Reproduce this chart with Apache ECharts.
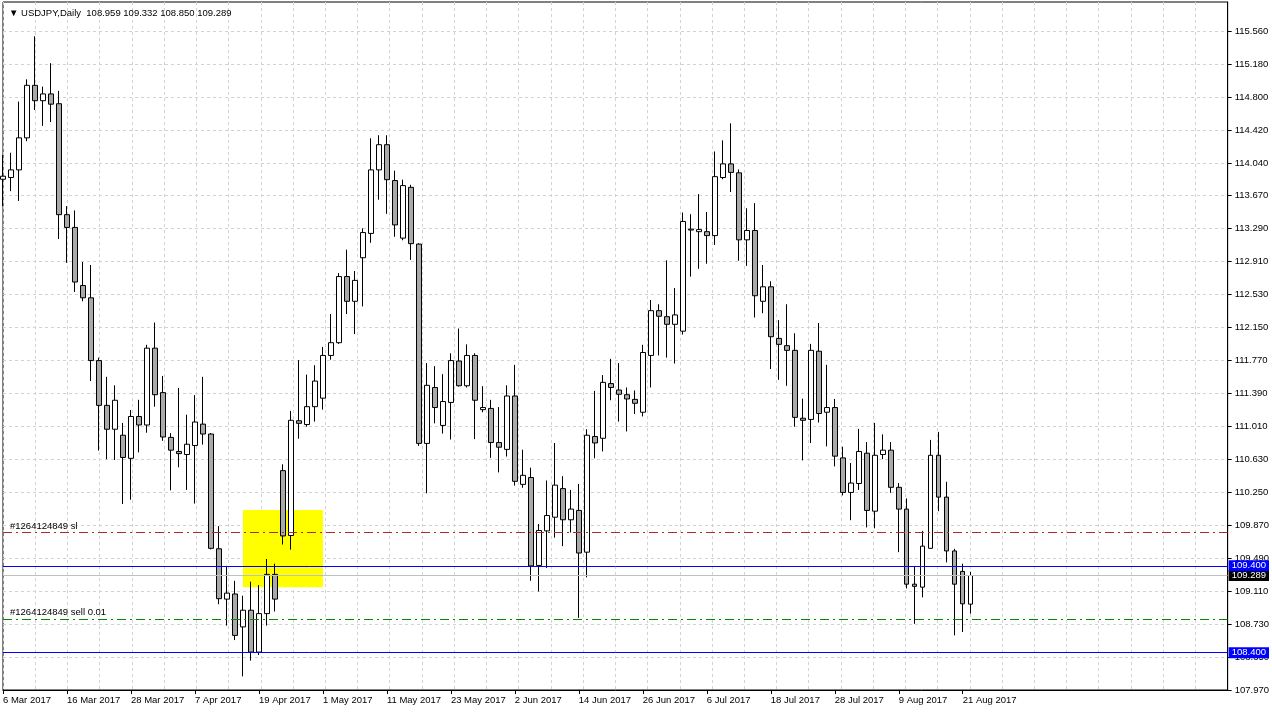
<!DOCTYPE html>
<html>
<head>
<meta charset="utf-8">
<title>USDJPY Daily</title>
<script src="https://cdn.jsdelivr.net/npm/echarts@6/dist/echarts.min.js"></script>
<style>
  html, body { margin: 0; padding: 0; background: #fff; }
  #chart { width: 1272px; height: 714px; }
</style>
</head>
<body>
<div id="chart"></div>
<script>
// daily bars, 6 Mar 2017 .. 22 Aug 2017 (index 0 = 6 Mar)
const openPrices = [
  113.854, 113.874, 113.962, 114.331, 114.936, 114.759, 114.837, 114.724, 113.446, 113.299,
  112.630, 112.488, 111.765, 111.249, 110.974, 110.905, 110.639, 111.121, 111.023, 111.908,
  111.396, 110.880, 110.718, 110.683, 110.787, 111.033, 110.919, 109.597, 109.017, 109.076,
  108.697, 108.889, 108.407, 108.850, 109.302, 110.497, 109.750, 111.072, 111.028, 111.234,
  111.332, 111.824, 111.971, 112.733, 112.448, 112.950, 113.230, 113.962, 114.252, 113.839,
  113.176, 113.761, 113.107, 110.811, 111.455, 111.018, 111.283, 111.760, 111.475, 111.824,
  111.200, 111.214, 110.821, 110.742, 111.357, 110.339, 110.418, 109.405, 109.803, 109.961,
  110.290, 109.931, 110.039, 109.558, 110.890, 110.870, 111.500, 111.426, 111.372, 111.318,
  111.170, 111.824, 112.340, 112.271, 112.183, 112.104, 113.269, 113.250, 113.250, 113.205,
  113.874, 114.031, 113.928, 113.156, 113.264, 112.448, 112.615, 112.021, 111.937, 111.883,
  111.101, 111.087, 111.873, 111.170, 111.224, 110.644, 110.246, 110.349, 110.698, 110.030,
  110.683, 110.733, 110.305, 110.054, 109.189, 109.155, 109.602, 110.674, 110.192, 109.572,
  109.336, 108.959
]
const closePrices = [
  113.889, 113.962, 114.331, 114.936, 114.759, 114.837, 114.719, 113.446, 113.299, 112.670,
  112.488, 111.765, 111.249, 110.974, 111.308, 110.649, 111.121, 111.023, 111.908, 111.372,
  110.885, 110.733, 110.693, 110.801, 111.057, 110.919, 109.602, 109.022, 109.086, 108.599,
  108.889, 108.407, 108.850, 109.302, 109.017, 109.745, 111.077, 111.042, 111.234, 111.529,
  111.824, 111.971, 112.733, 112.448, 112.689, 113.240, 113.962, 114.252, 113.849, 113.328,
  113.781, 113.112, 110.811, 111.480, 111.224, 111.293, 111.765, 111.475, 111.824, 111.308,
  111.224, 110.821, 110.767, 111.357, 110.374, 110.443, 109.400, 109.808, 109.980, 110.330,
  109.931, 110.054, 109.548, 110.905, 110.816, 111.514, 111.455, 111.377, 111.323, 111.273,
  111.858, 112.340, 112.276, 112.183, 112.291, 113.368, 113.279, 113.274, 113.205, 113.884,
  114.031, 113.933, 113.156, 113.264, 112.512, 112.615, 112.040, 111.952, 111.883, 111.111,
  111.077, 111.883, 111.155, 111.224, 110.664, 110.246, 110.354, 110.718, 110.039, 110.674,
  110.733, 110.305, 110.054, 109.189, 109.164, 109.627, 110.674, 110.192, 109.572, 109.189,
  108.963, 109.289
]
const lowPrices = [
  113.545, 113.717, 113.604, 114.292, 114.651, 114.469, 114.513, 113.166, 112.891, 112.556,
  112.448, 111.529, 110.728, 110.629, 110.620, 110.113, 110.162, 110.708, 110.934, 111.234,
  110.841, 110.271, 110.536, 110.275, 110.118, 110.797, 109.590, 108.958, 108.712, 108.545,
  108.127, 108.309, 108.373, 108.712, 108.874, 109.646, 109.587, 110.865, 111.003, 111.062,
  111.200, 111.775, 111.957, 112.301, 112.070, 112.389, 113.122, 113.618, 113.456, 113.191,
  113.151, 112.925, 110.782, 110.236, 111.042, 110.924, 110.856, 111.465, 111.455, 110.860,
  111.170, 110.644, 110.477, 110.659, 110.325, 110.300, 109.228, 109.105, 109.376, 109.725,
  109.627, 109.784, 108.801, 109.268, 110.639, 110.718, 111.308, 111.062, 110.949, 111.150,
  111.121, 111.455, 111.824, 111.799, 111.731, 112.065, 112.733, 112.822, 112.881, 113.097,
  113.854, 113.707, 112.915, 112.856, 112.261, 112.311, 111.667, 111.544, 111.475, 111.003,
  110.615, 110.816, 111.052, 110.777, 110.546, 110.212, 109.926, 110.275, 109.843, 109.833,
  110.629, 110.241, 109.558, 109.140, 108.732, 109.037, 109.600, 110.030, 109.440, 108.599,
  108.638, 108.850
]
const highPrices = [
  114.134, 114.159, 114.749, 115.005, 115.501, 114.921, 115.191, 114.872, 113.545, 113.495,
  112.901, 112.866, 111.799, 111.578, 111.480, 111.047, 111.195, 111.313, 111.947, 112.203,
  111.588, 110.929, 111.450, 111.141, 111.367, 111.578, 110.930, 109.858, 109.400, 109.228,
  109.056, 109.218, 109.179, 109.479, 109.425, 110.570, 111.185, 111.770, 111.603, 111.711,
  111.922, 112.301, 112.773, 113.043, 112.797, 113.289, 114.326, 114.361, 114.361, 113.953,
  113.849, 113.790, 113.117, 111.736, 111.701, 111.608, 111.849, 112.134, 111.952, 111.849,
  111.470, 111.313, 111.229, 111.480, 111.716, 110.738, 110.531, 109.882, 110.384, 110.816,
  110.433, 110.275, 110.344, 110.974, 111.416, 111.598, 111.785, 111.736, 111.455, 111.421,
  111.947, 112.463, 112.414, 112.920, 112.601, 113.471, 113.451, 113.682, 113.476, 114.174,
  114.302, 114.498, 113.967, 113.520, 113.579, 112.866, 112.679, 112.232, 112.414, 112.080,
  111.327, 111.957, 112.198, 111.716, 111.323, 110.772, 110.585, 110.978, 110.826, 111.047,
  110.915, 110.826, 110.354, 110.177, 109.391, 109.803, 110.851, 110.944, 110.369, 109.597,
  109.425, 109.332
]

const dateTicks = [0, 8, 16, 24, 32, 40, 48, 56, 64, 72, 80, 88, 96, 104, 112, 120]
const dateLabels = [
  '6 Mar 2017', '16 Mar 2017', '28 Mar 2017', '7 Apr 2017', '19 Apr 2017', '1 May 2017',
  '11 May 2017', '23 May 2017', '2 Jun 2017', '14 Jun 2017', '26 Jun 2017', '6 Jul 2017',
  '18 Jul 2017', '28 Jul 2017', '9 Aug 2017', '21 Aug 2017'
]
const priceLevels = [
  107.970, 108.350, 108.730, 109.110, 109.490, 109.870, 110.250, 110.630, 111.010, 111.390,
  111.770, 112.150, 112.530, 112.910, 113.290, 113.670, 114.040, 114.420, 114.800, 115.180, 115.560
]

const headerText = '\u25BC USDJPY,Daily  108.959 109.332 108.850 109.289'
const stopLoss = 109.79
const sellPrice = 108.79
const upperLevel = 109.40
const lowerLevel = 108.40
const bidPrice = 109.289
const zoneFrom = 30
const zoneTo = 40
const zoneTop = 110.044
const zoneBottom = 109.155

const fontFamily = 'Liberation Sans, Arial, sans-serif'
const fontSize = 9.5

let candles = openPrices.map((o, i) => [i, o, closePrices[i], lowPrices[i], highPrices[i]])

function priceTag(text, bg) {
    return {
        show: true,
        position: 'end',
        distance: 1,
        formatter: text,
        color: '#fff',
        backgroundColor: bg,
        padding: [1, 3, 0, 3],
        fontSize: fontSize,
        fontFamily: fontFamily
    }
}

let option = {
    animation: false,
    backgroundColor: '#fff',
    textStyle: { fontFamily: fontFamily },
    title: {
        text: headerText,
        left: 4,
        top: 3,
        textStyle: { fontSize: fontSize, fontWeight: 'normal', color: '#000', fontFamily: fontFamily }
    },
    grid: {
        left: 3,
        right: 44,
        top: 2,
        bottom: 24,
        show: true,
        borderColor: '#000',
        borderWidth: 1
    },
    xAxis: [
        {
            type: 'value',
            min: 0,
            max: 153.125,
            position: 'bottom',
            axisLine: { show: true, onZero: false, lineStyle: { color: '#000' } },
            axisTick: { show: true, customValues: dateTicks, length: 4, lineStyle: { color: '#000' } },
            axisLabel: {
                customValues: dateTicks,
                formatter: (v) => dateLabels[Math.round(v / 8)] || '',
                align: 'left',
                margin: 5,
                fontSize: fontSize,
                color: '#000'
            },
            splitLine: { show: false }
        },
        {
            // vertical grid every 4 bars
            type: 'value',
            min: 0,
            max: 152,
            interval: 4,
            position: 'top',
            axisLine: { show: false },
            axisTick: { show: false },
            axisLabel: { show: false },
            splitLine: { show: true, lineStyle: { color: '#d2d2d2', type: [3, 3] } }
        }
    ],
    yAxis: [{
        type: 'value',
        position: 'right',
        min: 107.97,
        max: 115.896,
        axisLine: { show: true, onZero: false, lineStyle: { color: '#000' } },
        axisTick: { show: true, customValues: priceLevels, length: 4, lineStyle: { color: '#000' } },
        axisLabel: {
            customValues: priceLevels,
            formatter: (v) => v.toFixed(3),
            margin: 7,
            fontSize: fontSize,
            color: '#000'
        },
        splitLine: { show: true, lineStyle: { color: '#d2d2d2', type: [3, 3] } }
    }],
    series: [{
        type: 'candlestick',
        data: candles,
        encode: { x: 0, y: [1, 2, 3, 4] },
        barWidth: 5,
        itemStyle: {
            color: '#ffffff',
            color0: '#a9a9a9',
            borderColor: '#000',
            borderColor0: '#000',
            borderWidth: 1
        },
        markArea: {
            silent: true,
            itemStyle: { color: '#ffff00' },
            data: [[
                { coord: [zoneFrom, zoneTop] },
                { coord: [zoneTo, zoneBottom] }
            ]]
        },
        markLine: {
            silent: true,
            symbol: 'none',
            precision: 3,
            data: [
                {
                    yAxis: stopLoss,
                    lineStyle: { color: '#b02a2a', type: [9, 4, 2, 4], width: 1 },
                    label: { show: true, position: 'insideStartTop', distance: [7, 1], formatter: '#1264124849 sl', color: '#000', fontSize: fontSize }
                },
                {
                    yAxis: sellPrice,
                    lineStyle: { color: '#008a00', type: [9, 4, 2, 4], width: 1 },
                    label: { show: true, position: 'insideStartTop', distance: [7, 1], formatter: '#1264124849 sell 0.01', color: '#000', fontSize: fontSize }
                },
                {
                    yAxis: bidPrice,
                    lineStyle: { color: '#c0c0c0', type: 'solid', width: 1 },
                    label: priceTag('109.289', '#000')
                },
                {
                    yAxis: upperLevel,
                    lineStyle: { color: '#0000ff', type: 'solid', width: 1 },
                    label: priceTag('109.400', '#0000ff')
                },
                {
                    yAxis: lowerLevel,
                    lineStyle: { color: '#0000ff', type: 'solid', width: 1 },
                    label: priceTag('108.400', '#0000ff')
                }
            ]
        }
    }]
}

let chart = echarts.init(document.getElementById('chart'))
chart.setOption(option)
</script>
</body>
</html>
